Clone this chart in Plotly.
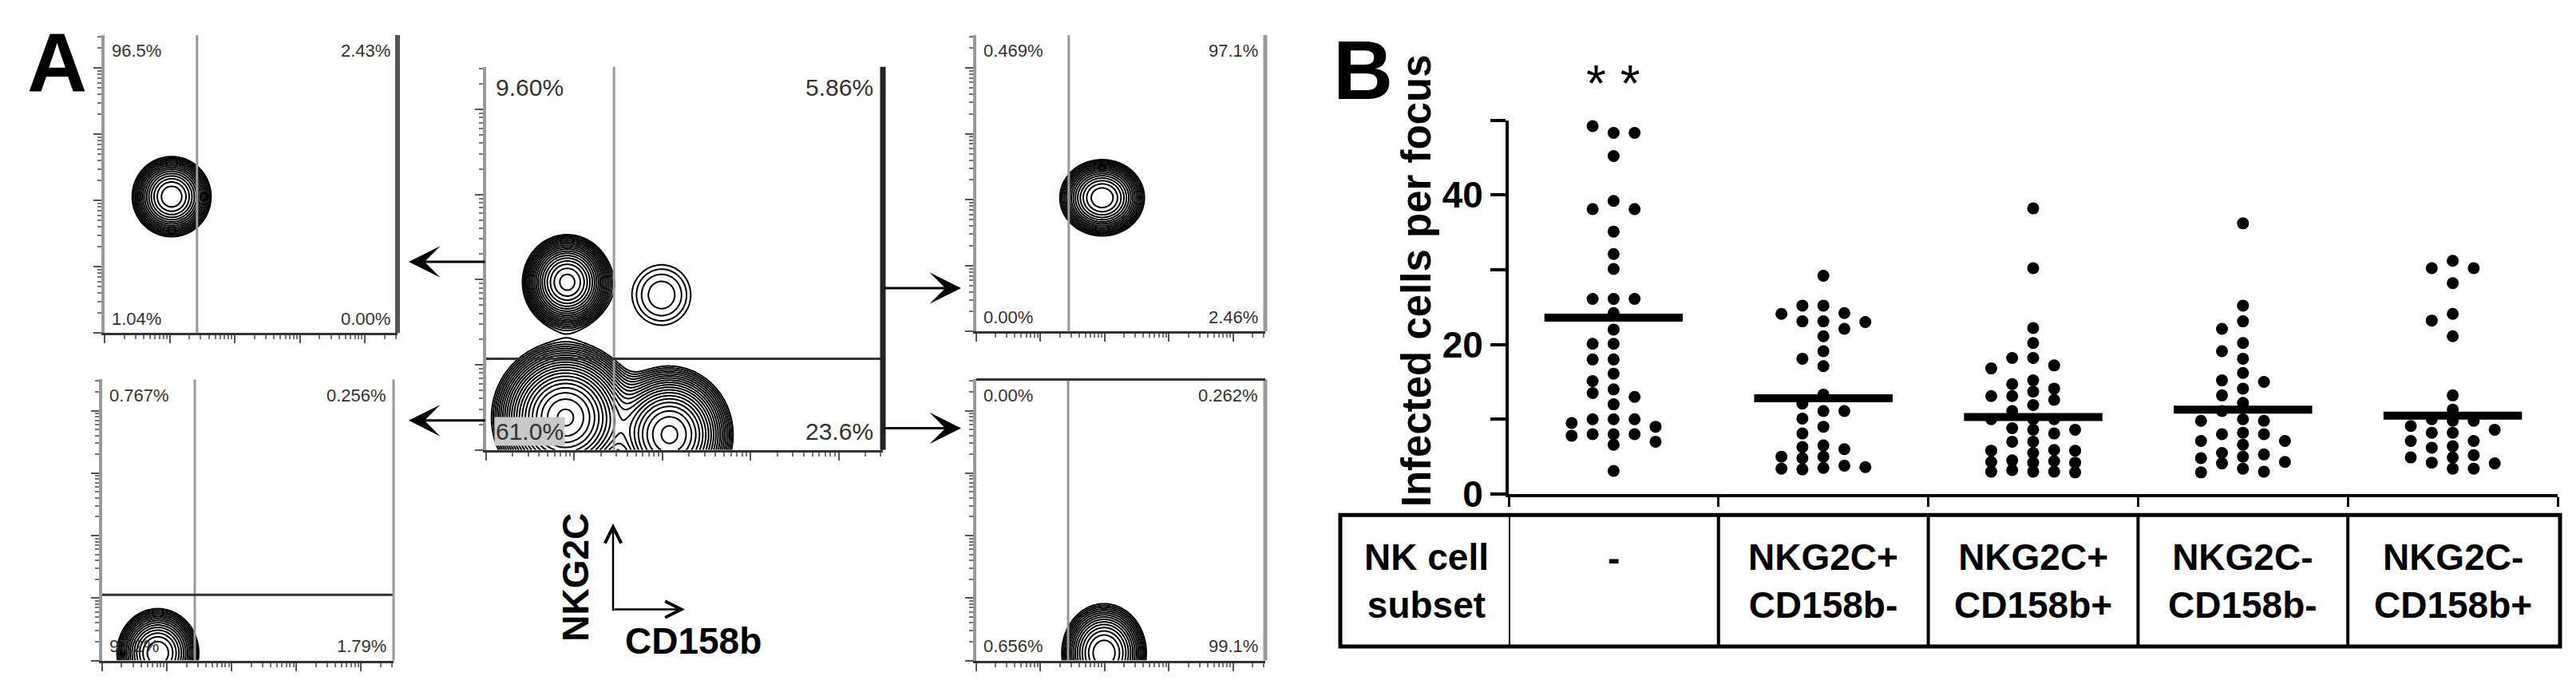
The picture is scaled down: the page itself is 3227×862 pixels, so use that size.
import numpy as np
import plotly.graph_objects as go

W, H = 3227, 862
FONT = "Liberation Sans, Arial, sans-serif"


def fx(p):
    return p / W


def fy(p):
    return 1 - p / H


# ---------------- panel B : infected cells per focus ----------------
subsets = ["-", "NKG2C+<br>CD158b-", "NKG2C+<br>CD158b+", "NKG2C-<br>CD158b-", "NKG2C-<br>CD158b+"]

no_nk = [50.2, 49.2, 48.3, 48.3, 45.2, 39.2, 38.1, 38.1, 35.1, 32.1, 30.1, 26.1, 26.1,
         26.1, 24.2, 22.0, 20.1, 20.1, 18.0, 18.0, 16.1, 15.1, 14.0, 13.5, 13.0, 12.0,
         10.0, 10.0, 10.0, 9.5, 9.0, 8.0, 8.0, 8.0, 7.8, 7.0, 6.6, 3.1]
pos_neg = [29.2, 25.2, 25.2, 24.2, 24.1, 23.1, 23.1, 23.0, 22.1, 21.1, 19.1, 18.1, 17.1,
           13.3, 12.1, 11.1, 11.1, 10.1, 9.0, 8.1, 6.5, 6.3, 6.0, 5.0, 5.0, 4.8, 3.8,
           3.6, 3.5, 3.4, 3.3]
pos_pos = [18.2, 13.7, 11.9, 10.0, 8.6, 7.0, 5.5, 4.2, 3.0, 22.2, 18.2, 13.1, 5.8, 4.2,
           3.0, 38.2, 30.2, 17.2, 15.2, 13.1, 10.0, 8.6, 7.0, 4.5, 2.9, 20.2, 14.1, 12.6,
           11.1, 8.1, 5.8, 4.3, 3.2, 16.8, 14.7, 10.0, 8.8, 5.9, 4.4, 3.0]
neg_neg = [15.0, 13.2, 8.2, 4.3, 25.2, 20.2, 18.1, 12.2, 7.1, 5.0, 3.0, 36.2, 22.1, 16.2,
           14.1, 11.1, 9.8, 8.0, 5.5, 3.4, 23.1, 19.1, 9.8, 8.0, 6.6, 4.8, 15.2, 10.0,
           7.1, 5.3, 4.1, 2.9]
neg_pos = [10.0, 8.6, 7.1, 5.2, 30.2, 23.2, 9.8, 8.2, 4.1, 31.2, 28.2, 21.1, 13.2, 11.3,
           8.2, 6.4, 4.9, 3.4, 30.2, 24.1, 9.1, 6.2, 4.9, 3.4, 9.8, 7.1, 4.2]
groups = [no_nk, pos_neg, pos_pos, neg_neg, neg_pos]
group_means = [23.6, 12.8, 10.3, 11.3, 10.5]
y_ticks = [0, 10, 20, 30, 40, 50]
y_tick_text = ["0", "", "20", "", "40", ""]

# ---------------- panel A : flow cytometry contour plots ----------------
quad_labels = [
    ["96.5%", "2.43%", "1.04%", "0.00%"],
    ["0.767%", "0.256%", "97.2%", "1.79%"],
    ["9.60%", "5.86%", "61.0%", "23.6%"],
    ["0.469%", "97.1%", "0.00%", "2.46%"],
    ["0.00%", "0.262%", "0.656%", "99.1%"],
]
gate_x = [1.42, 1.43, 1.45, 1.44, 1.43]
gate_y = [None, 1.05, 1.07, None, None]
# populations: panel index, centre (decades), spread, relative peak height
pop_panel = [0, 1, 2, 2, 2, 2, 3, 4]
pop_x = [1.03, 0.86, 0.92, 1.99, 0.90, 2.08, 1.96, 1.99]
pop_y = [2.06, 0.12, 1.97, 1.82, 0.38, 0.18, 2.03, 0.12]
pop_sx = [0.23, 0.24, 0.20, 0.28, 0.30, 0.27, 0.25, 0.25]
pop_sy = [0.23, 0.27, 0.22, 0.30, 0.32, 0.30, 0.22, 0.30]
pop_peak = [1.0, 1.0, 0.5, 0.04, 1.0, 0.7, 1.0, 1.0]

# pixel boxes of the flow panels: left, right, top, bottom
boxes = [(123, 490, 37, 422), (120, 485, 482, 845), (601, 1098, 78, 573),
         (1215, 1577, 37, 420), (1215, 1577, 482, 845)]


def swarm(vals, d=1.45, slots=(0, -1, 1, -2, 2)):
    order = sorted(range(len(vals)), key=lambda i: -vals[i])
    placed = {s: [] for s in slots}
    offs = [0] * len(vals)
    for i in order:
        v = vals[i]
        pick = None
        for s in slots:
            if all(abs(v - u) >= d for u in placed[s]):
                pick = s
                break
        if pick is None:
            pick = max(slots, key=lambda s: min(abs(v - u) for u in placed[s]))
        placed[pick].append(v)
        offs[i] = pick
    return offs


def label(text, x, y, size, xref="paper", yref="paper", **kw):
    d = dict(text=text, x=x, y=y, xref=xref, yref=yref, xanchor="center",
             yanchor="middle", showarrow=False,
             font=dict(family=FONT, size=size, color="black"))
    d.update(kw)
    return d


fig = go.Figure()

# dots
xs, ys = [], []
for gi, vals in enumerate(groups):
    offs = swarm(vals)
    xs += [gi + 0.1 * o for o in offs]
    ys += vals
fig.add_trace(go.Scatter(x=xs, y=ys, mode="markers", cliponaxis=False,
                         marker=dict(size=15, color="black"), hoverinfo="skip"))
# mean lines
for gi, m in enumerate(group_means):
    fig.add_trace(go.Scatter(x=[gi - 0.33, gi + 0.33], y=[m, m], mode="lines",
                             line=dict(color="black", width=10), hoverinfo="skip"))

# contour plots
grid = np.linspace(0, 4.5, 226)
GX, GY = np.meshgrid(grid, grid)
for p in range(5):
    z = np.zeros_like(GX)
    for k in range(len(pop_panel)):
        if pop_panel[k] == p:
            z += pop_peak[k] * np.exp(-((GX - pop_x[k]) ** 2 / (2 * pop_sx[k] ** 2)
                                        + (GY - pop_y[k]) ** 2 / (2 * pop_sy[k] ** 2)))
    lz = np.log10(z / z.max() + 1e-12)
    lo, step = (-1.7, 0.08) if p == 2 else (-1.5, 0.1)
    fig.add_trace(go.Contour(
        x=grid, y=grid, z=lz, xaxis=f"x{p + 2}", yaxis=f"y{p + 2}",
        autocontour=False, contours=dict(coloring="lines", start=lo, end=-0.02, size=step),
        colorscale=[[0, "black"], [1, "black"]], line=dict(width=2),
        showscale=False, hoverinfo="skip"))

minor_vals = [k + np.log10(m) for k in range(5) for m in range(2, 10) if k + np.log10(m) < 4.5]
layout = dict(
    width=W, height=H, margin=dict(l=0, r=0, t=0, b=0),
    paper_bgcolor="white", plot_bgcolor="white", showlegend=False,
    xaxis=dict(domain=[fx(1882), fx(3196)], range=[-0.5, 4.5], anchor="y",
               showline=True, linecolor="black", linewidth=4, showgrid=False, zeroline=False,
               tickmode="array", tickvals=[-0.5, 0.5, 1.5, 2.5, 3.5, 4.5], ticks="outside",
               ticklen=12, tickwidth=3, tickcolor="black", showticklabels=False),
    yaxis=dict(domain=[fy(630), fy(147)], range=[0, 50], anchor="x",
               showline=True, linecolor="black", linewidth=4, showgrid=False, zeroline=False,
               tickmode="array", tickvals=y_ticks, ticktext=y_tick_text, ticks="outside",
               ticklen=19, tickwidth=4, tickcolor="black",
               tickfont=dict(family=FONT, size=46, color="black", weight="bold")),
)
for n, (x0, x1, y0, y1) in enumerate(boxes, start=2):
    layout[f"xaxis{n}"] = dict(
        domain=[fx(x0), fx(x1)], anchor=f"y{n}", range=[0, 4.5], showgrid=False,
        zeroline=False, showline=True, linecolor="#333", linewidth=3,
        tickmode="array", tickvals=[0, 1, 2, 3, 4], ticks="outside", ticklen=10,
        tickwidth=2, tickcolor="#555", showticklabels=False,
        minor=dict(tickmode="array", tickvals=minor_vals, ticks="outside", ticklen=5,
                   tickwidth=2, tickcolor="#777"))
    layout[f"yaxis{n}"] = dict(
        domain=[fy(y1), fy(y0)], anchor=f"x{n}", range=[0, 4.5], showgrid=False,
        zeroline=False, showline=True, linecolor="#999", linewidth=4,
        tickmode="array", tickvals=[0, 1, 2, 3, 4], ticks="outside", ticklen=10,
        tickwidth=2, tickcolor="#555", showticklabels=False,
        minor=dict(tickmode="array", tickvals=minor_vals, ticks="outside", ticklen=5,
                   tickwidth=2, tickcolor="#777"))
fig.update_layout(**layout)

shapes = []
right_border = [("#555", 6), ("#999", 3), ("#222", 7), ("#999", 5), ("#999", 5)]
for p in range(5):
    n = p + 2
    shapes.append(dict(type="line", xref=f"x{n}", yref=f"y{n} domain", x0=gate_x[p],
                       x1=gate_x[p], y0=0, y1=1, line=dict(color="#999", width=3)))
    if gate_y[p] is not None:
        shapes.append(dict(type="line", xref=f"x{n} domain", yref=f"y{n}", x0=0, x1=1,
                           y0=gate_y[p], y1=gate_y[p], line=dict(color="#333", width=3)))
    col, wd = right_border[p]
    shapes.append(dict(type="line", xref=f"x{n} domain", yref=f"y{n} domain", x0=1, x1=1,
                       y0=0, y1=1, line=dict(color=col, width=wd)))
shapes.append(dict(type="line", xref="x6 domain", yref="y6 domain", x0=0, x1=1, y0=1, y1=1,
                   line=dict(color="#333", width=3)))

# table below panel B
shapes.append(dict(type="rect", xref="paper", yref="paper", x0=fx(1671), x1=fx(3199),
                   y0=fy(827), y1=fy(657), line=dict(color="black", width=5)))
for b in [-0.5, 0.5, 1.5, 2.5, 3.5]:
    shapes.append(dict(type="line", xref="x", yref="paper", x0=b, x1=b, y0=fy(827),
                       y1=fy(657), line=dict(color="black", width=4)))
fig.update_layout(shapes=shapes)

ann = []
ann.append(label("<b>A</b>", fx(63), fy(72), 104))
ann.append(label("<b>B</b>", fx(1699), fy(82), 104))
ann.append(label("<b>Infected cells per focus</b>", fx(1766), fy(355), 51, textangle=-90))
ann.append(label("* *", 0, fy(100), 64, xref="x"))
ann.append(label("<b>NK cell<br>subset</b>", fx(1779), fy(742), 46))
for gi, lab in enumerate(subsets):
    if lab == "-":
        ann.append(label("<b>-</b>", gi, fy(713), 46, xref="x"))
    else:
        ann.append(label(f"<b>{lab}</b>", gi, fy(742), 46, xref="x"))

# quadrant percentages
for p in range(5):
    n = p + 2
    size = 30 if p == 2 else 22
    spots = [(0.02, 0.985, "left", "top"), (0.98, 0.985, "right", "top"),
             (0.02, 0.01, "left", "bottom"), (0.98, 0.01, "right", "bottom")]
    for q, (qx, qy, xa, ya) in enumerate(spots):
        extra = dict(bgcolor="#c8c8c8") if (p == 2 and q == 2) else {}
        ann.append(dict(text=quad_labels[p][q], x=qx, y=qy, xref=f"x{n} domain",
                        yref=f"y{n} domain", xanchor=xa, yanchor=ya, showarrow=False,
                        font=dict(family=FONT, size=size, color="#333"), **extra))

# gating arrows
for (tx, ty, dx) in [(504, 330, 97), (504, 535, 97), (1196, 364, -98), (1196, 545, -98)]:
    ann.append(dict(text="", x=fx(tx), y=fy(ty), xref="paper", yref="paper", showarrow=True,
                    ax=dx, ay=0, axref="pixel", ayref="pixel", arrowhead=3, arrowsize=2.2,
                    arrowwidth=3, arrowcolor="black"))
# axis orientation key
ann.append(dict(text="", x=fx(760), y=fy(668), xref="paper", yref="paper", showarrow=True,
                ax=0, ay=111, arrowhead=5, arrowsize=1.6, arrowwidth=2.5, arrowcolor="black"))
ann.append(dict(text="", x=fx(850), y=fy(779), xref="paper", yref="paper", showarrow=True,
                ax=-90, ay=0, arrowhead=5, arrowsize=1.6, arrowwidth=2.5, arrowcolor="black"))
ann.append(label("<b>NKG2C</b>", fx(713), fy(738), 46, textangle=-90))
ann.append(label("<b>CD158b</b>", fx(860), fy(820), 46))
fig.update_layout(annotations=ann)

fig.write_html("out.html")
